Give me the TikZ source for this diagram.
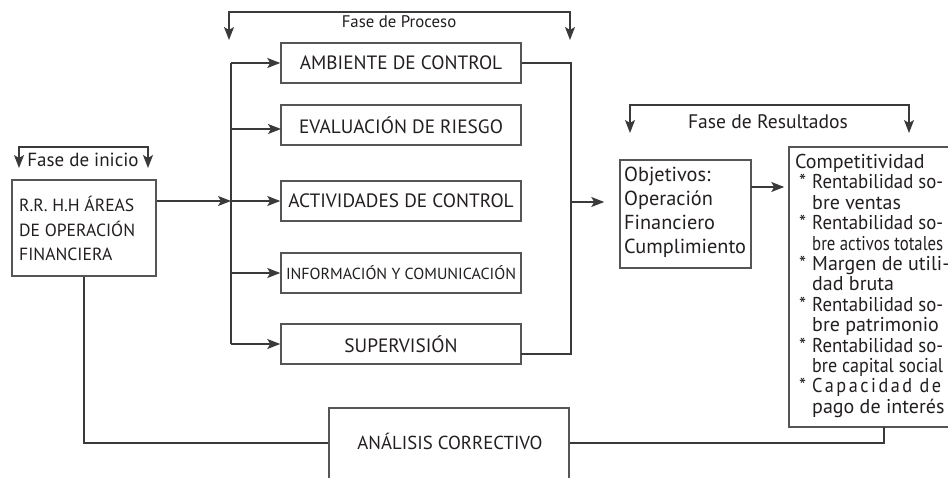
\documentclass[tikz,border=0pt]{standalone}
\usepackage{fontspec}
\setmainfont{PT Sans}
\usetikzlibrary{arrows.meta}
\definecolor{boxgray}{HTML}{555555}
\definecolor{linegray}{HTML}{3A3A3A}
\definecolor{textcol}{HTML}{231F20}
\newcommand{\fitline}[1]{\resizebox{131pt}{\height}{#1}}
\begin{document}
\begin{tikzpicture}[x=1pt,y=-1pt,
  box/.style={draw=boxgray,line width=1.5pt,fill=white,inner sep=0pt,text=textcol},
  conn/.style={draw=linegray,line width=1.3pt},
  tip/.tip={Stealth[length=13pt,width=10pt,inset=3pt]},
  arr/.style={conn,-tip},
  darr/.style={conn,tip-tip},
  txt/.style={text=textcol,inner sep=0pt},
  bfont/.style={font=\fontsize{19.3}{22}\selectfont},
]
\useasboundingbox (0,0) rectangle (948,477);
\clip (0,0) rectangle (948,477);
\fill[white] (0,0) rectangle (948,477);

% boxes
\node[box,minimum width=144pt,minimum height=96pt] (ini) at (84,228) {};
\node[txt,anchor=north west,align=left,font=\fontsize{17.6}{24.5}\selectfont] (initxt) at (19,196) {R.R. H.H ÁREAS\\DE OPERACIÓN\\FINANCIERA};
\node[box,bfont,minimum width=240pt,minimum height=40pt] (amb) at (401,63) {AMBIENTE DE CONTROL};
\node[box,bfont,minimum width=240pt,minimum height=40pt] (eva) at (401,125) {EVALUACIÓN DE RIESGO};
\node[box,bfont,minimum width=240pt,minimum height=40pt] (act) at (401,201) {ACTIVIDADES DE CONTROL};
\node[box,minimum width=240pt,minimum height=40pt] (inf) at (401,273) {\resizebox{230pt}{!}{\fontsize{16.5}{20}\selectfont INFORMACIÓN Y COMUNICACIÓN}};
\node[box,bfont,minimum width=240pt,minimum height=40pt] (sup) at (401,344) {SUPERVISIÓN};
\node[box,minimum width=131pt,minimum height=108pt] (obj) at (685.5,214) {};
\node[txt,anchor=north west,align=left,font=\fontsize{20.3}{24}\selectfont] (objtxt) at (624,167) {Objetivos:\\Operación\\Financiero\\Cumplimiento};
\node[box,minimum width=211pt,minimum height=280pt] (comp) at (894.5,287) {};
\node[txt,anchor=north west,align=left,font=\fontsize{20}{20.4}\selectfont] (comptxt) at (795,154) {Competitividad\\
\makebox[17pt][l]{\hspace{4pt}*}\fitline{Rentabilidad so-}\\
\hspace*{17pt}bre ventas\\
\makebox[17pt][l]{\hspace{4pt}*}\fitline{Rentabilidad so-}\\
\hspace*{17pt}\fitline{bre activos totales}\\
\makebox[17pt][l]{\hspace{4pt}*}Margen de utili-\\
\hspace*{17pt}dad bruta\\
\makebox[17pt][l]{\hspace{4pt}*}\fitline{Rentabilidad so-}\\
\hspace*{17pt}bre patrimonio\\
\makebox[17pt][l]{\hspace{4pt}*}\fitline{Rentabilidad so-}\\
\hspace*{17pt}\fitline{bre capital social}\\
\makebox[17pt][l]{\hspace{4pt}*}\resizebox{129pt}{\height}{\addfontfeature{LetterSpace=14}Capacidad de}\\
\hspace*{17pt}pago de interés};
\node[box,minimum width=240pt,minimum height=82pt] (ana) at (449,449) {};
\node[txt,font=\fontsize{18.8}{22}\selectfont] (anatxt) at (450,441) {ANÁLISIS CORRECTIVO};

% phase labels
\node[txt,font=\fontsize{19}{22}\selectfont] (fini) at (83,160) {Fase de inicio};
\node[txt,font=\fontsize{16.8}{20}\selectfont] (fpro) at (399,22) {Fase de Proceso};
\node[txt,font=\fontsize{19.6}{22}\selectfont] (fres) at (768,122) {Fase de Resultados};

% coordinates
\coordinate (busin) at (231,201);
\coordinate (rbus) at (571,202);
\coordinate (supout) at (521,354);
\coordinate (objout) at (751,187);
\coordinate (ly) at (0,443);
\coordinate (cbot) at (884,427);
\coordinate (evain) at (281,129);
% bracket coordinates
\coordinate (ia) at (19,168); \coordinate (ib) at (148,168); \coordinate (it) at (0,147);
\coordinate (pa) at (229,40); \coordinate (pb) at (570,40); \coordinate (pt) at (0,12);
\coordinate (ra) at (630,133); \coordinate (rb) at (909,133); \coordinate (rt) at (0,105);

% brackets
\draw[darr] (ia) -- (ia |- it) -- (ib |- it) -- (ib);
\draw[darr] (pa) -- (pa |- pt) -- (pb |- pt) -- (pb);
\draw[darr] (ra) -- (ra |- rt) -- (rb |- rt) -- (rb);

% input side
\draw[arr] (ini.east |- busin) -- (busin);
\draw[conn] (amb.west -| busin) -- (sup.west -| busin);
\draw[arr] (amb.west -| busin) -- (amb.west);
\draw[arr] (evain -| busin) -- (evain);
\draw[arr] (act.west -| busin) -- (act.west);
\draw[arr] (inf.west -| busin) -- (inf.west);
\draw[arr] (sup.west -| busin) -- (sup.west);

% output side
\draw[conn] (amb.east) -- (amb.east -| rbus) -- (rbus |- supout) -- (supout);
\draw[arr,shorten >=15pt] (rbus) -- (obj.west |- rbus);
\draw[arr,shorten >=4pt] (objout) -- (comp.west |- objout);

% feedback
\draw[conn] (ini.south) -- (ini.south |- ly) -- (ana.west |- ly);
\draw[conn] (ana.east |- ly) -- (cbot |- ly) -- (cbot);
\end{tikzpicture}
\end{document}
